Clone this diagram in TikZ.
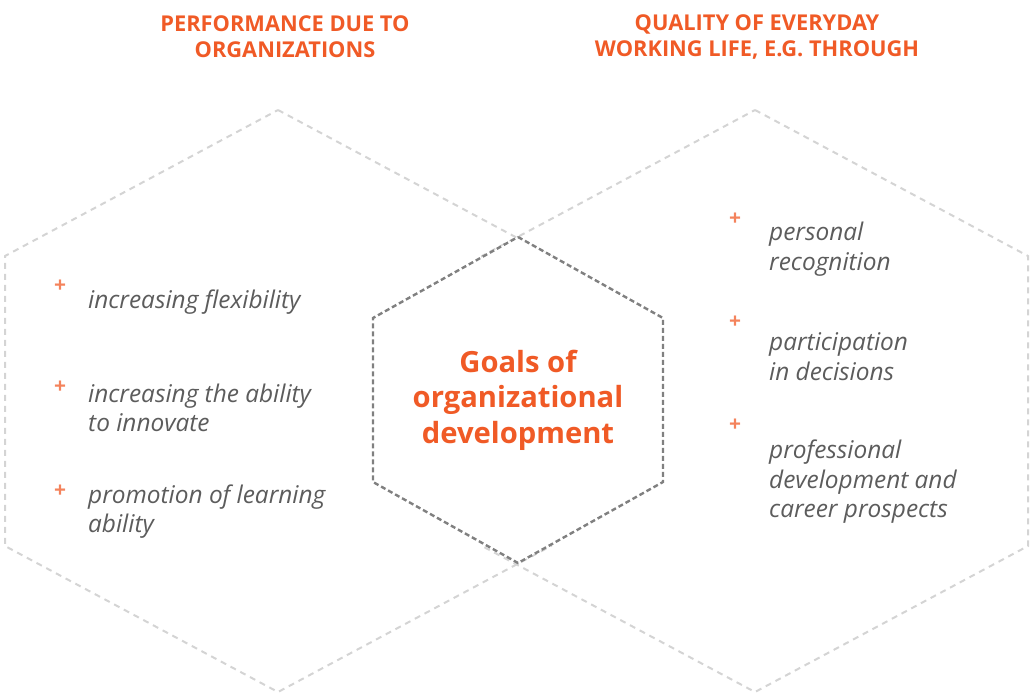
\documentclass[tikz,border=0pt]{standalone}
\usepackage{fontspec}
\setmainfont{Open Sans}
\usepackage{tikz}
\definecolor{odorange}{RGB}{240,90,38}
\definecolor{odgray}{RGB}{92,92,92}
\definecolor{hexlight}{RGB}{212,212,212}
\definecolor{hexdark}{RGB}{128,128,128}

\begin{document}
\begin{tikzpicture}[
  x=1pt, y=-1pt,
  outerhex/.style={draw=hexlight, line width=2pt, dash pattern=on 6pt off 5pt},
  innerhex/.style={draw=hexdark, line width=2.4pt, dash pattern=on 5pt off 3pt, fill=white},
  heading/.style={text=odorange, font=\fontsize{21.8}{26}\selectfont\bfseries, align=center, inner sep=0pt},
  goal/.style={text=odorange, font=\fontsize{29.2}{35.5}\selectfont\bfseries, align=center, inner sep=0pt},
  item/.style={text=odgray, font=\fontsize{24.4}{29.5}\selectfont\itshape, align=left, anchor=west, inner sep=0pt},
  plusmark/.style={text=odorange!75, font=\fontsize{21}{21}\selectfont\bfseries, inner sep=0pt}
]
\useasboundingbox (0,0) rectangle (1034,699);

\foreach \cx in {278,755}
  \draw[outerhex, shift={(\cx,401)}] (0,-291) -- (273,-145) -- (273,145) -- (0,291) -- (-273,145) -- (-273,-145) -- cycle;
\draw[innerhex, shift={(518,400)}] (0,-163) -- (145,-82) -- (145,82) -- (0,163) -- (-145,82) -- (-145,-82) -- cycle;

\node[heading] (perf) at (285,37) {PERFORMANCE DUE TO\\ORGANIZATIONS};
\node[heading] (qual) at (757,37) {QUALITY OF EVERYDAY\\WORKING LIFE, E.G. THROUGH};
\node[goal] (goals) at (518,400) {Goals of\\organizational\\development};

\node[plusmark] (pl1) at (60,286) {+};
\node[plusmark] (pl2) at (60,387) {+};
\node[plusmark] (pl3) at (60,491) {+};
\node[item] (flex)  at (88,302)   {increasing flexibility};
\node[item] (innov) at (88,408)   {increasing the ability\\to innovate};
\node[item] (learn) at (88,511.5) {promotion of learning\\ability};

\node[plusmark] (pr1) at (735,219) {+};
\node[plusmark] (pr2) at (735,322) {+};
\node[plusmark] (pr3) at (735,425) {+};
\node[item] (recog)  at (769,249)   {personal\\recognition};
\node[item] (partic) at (769,356.5) {participation\\in decisions};
\node[item] (career) at (769,482)   {professional\\development and\\career prospects};
\end{tikzpicture}
\end{document}
